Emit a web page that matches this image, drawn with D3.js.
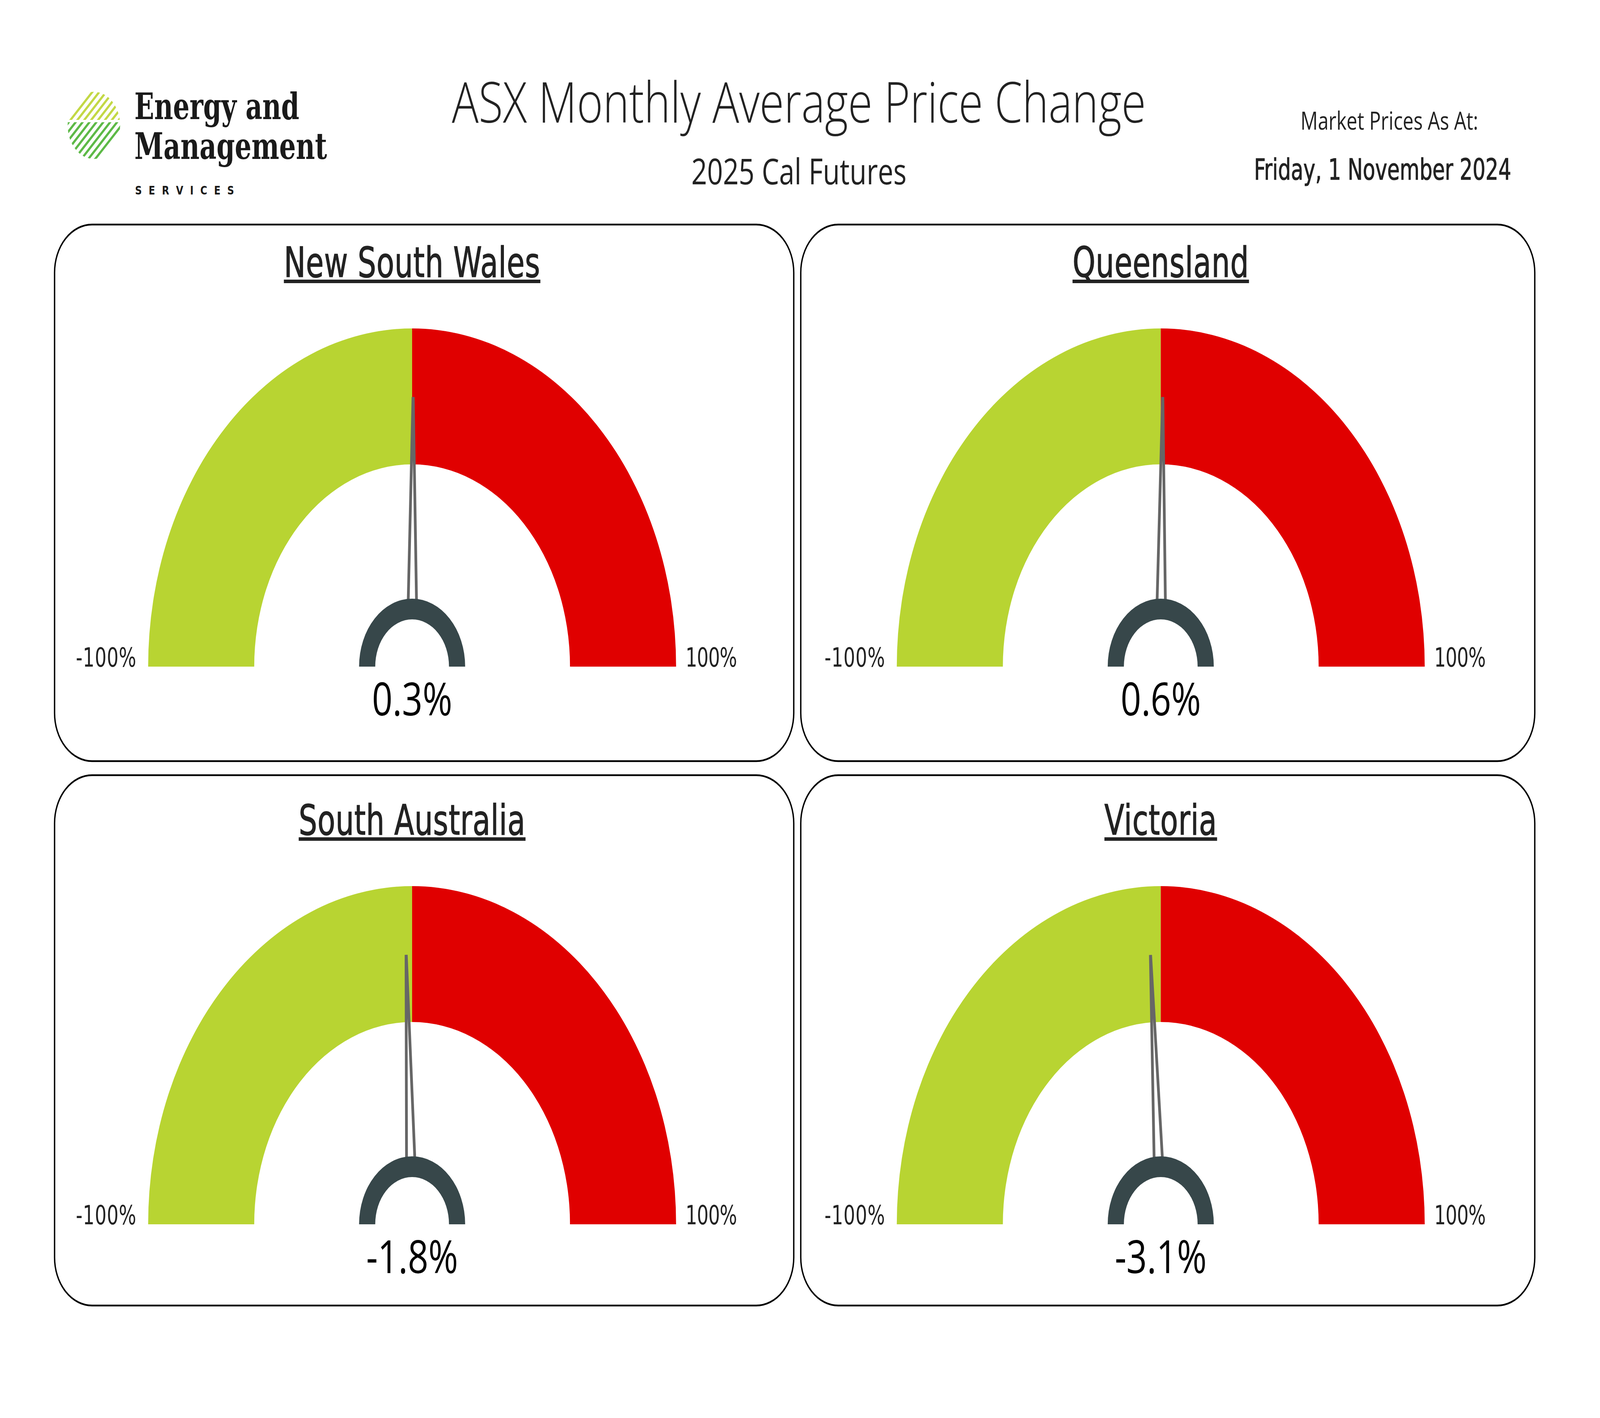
<!DOCTYPE html>
<html>
<head>
<meta charset="utf-8">
<style>
  html, body { margin: 0; padding: 0; background: #fff; overflow: hidden; }
  svg { display: block; width: 100vw; height: 100vh; }
</style>
</head>
<body>
<script src="https://cdn.jsdelivr.net/npm/d3@7"></script>
<script>
// Data
const regions = ['New South Wales', 'Queensland', 'South Australia', 'Victoria']
const changes = [0.3, 0.6, -1.8, -3.1]
const scaleMin = -100
const scaleMax = 100
const scaleLabels = ['-100%', '100%']
const bands = [[-100, 0], [0, 100]]
const bandColors = ['#b8d432', '#e00000']
const title = 'ASX Monthly Average Price Change'
const subtitle = '2025 Cal Futures'
const asAtLabel = 'Market Prices As At:'
const asAtDate = 'Friday, 1 November 2024'

// The window may be narrower than the drawing: stretch the drawing to fill it
const W = 5249, H = 3631
const condensed = '"DejaVu Sans Condensed", "DejaVu Sans", sans-serif'
const segoe = '"Open Sans", "Noto Sans", sans-serif'

const svg = d3.select('body').append('svg')
  .attr('viewBox', [0, 0, W, H])
  .attr('preserveAspectRatio', 'none')

// Logo
const logo = svg.append('g')
const defs = svg.append('defs')
defs.append('clipPath').attr('id', 'logo-circle')
  .append('circle').attr('cx', 308).attr('cy', 321).attr('r', 86)
defs.append('clipPath').attr('id', 'logo-top')
  .append('rect').attr('x', 200).attr('y', 200).attr('width', 220).attr('height', 107)
defs.append('clipPath').attr('id', 'logo-bottom')
  .append('rect').attr('x', 200).attr('y', 313).attr('width', 220).attr('height', 120)
const stripes = d3.range(-4, 5).map(k => k * 16)
const stripe = (g, color) => g.selectAll('line')
  .data(stripes)
  .join('line')
  .attr('x1', d => 308 + d / Math.SQRT2 - 120)
  .attr('y1', d => 321 + d / Math.SQRT2 + 120)
  .attr('x2', d => 308 + d / Math.SQRT2 + 120)
  .attr('y2', d => 321 + d / Math.SQRT2 - 120)
  .attr('stroke', color)
  .attr('stroke-width', 6.5)
stripe(logo.append('g').attr('clip-path', 'url(#logo-circle)')
  .append('g').attr('clip-path', 'url(#logo-top)'), '#c3d845')
stripe(logo.append('g').attr('clip-path', 'url(#logo-circle)')
  .append('g').attr('clip-path', 'url(#logo-bottom)'), '#5db947')
logo.append('text').attr('x', 441).attr('y', 305)
  .attr('font-family', '"DejaVu Serif Condensed", "DejaVu Serif", serif')
  .attr('font-weight', 'bold').attr('font-size', 94).attr('fill', '#1a1a1a')
  .attr('textLength', 541).attr('lengthAdjust', 'spacingAndGlyphs')
  .text('Energy and')
logo.append('text').attr('x', 441).attr('y', 407)
  .attr('font-family', '"DejaVu Serif Condensed", "DejaVu Serif", serif')
  .attr('font-weight', 'bold').attr('font-size', 94).attr('fill', '#1a1a1a')
  .attr('textLength', 632).attr('lengthAdjust', 'spacingAndGlyphs')
  .text('Management')
logo.append('text').attr('x', 443).attr('y', 498)
  .attr('font-family', '"DejaVu Sans", sans-serif')
  .attr('font-weight', 'bold').attr('font-size', 31).attr('fill', '#1a1a1a')
  .attr('textLength', 325).attr('lengthAdjust', 'spacing')
  .text('SERVICES')

// Header
svg.append('text').attr('x', 2621).attr('y', 314)
  .attr('text-anchor', 'middle').attr('font-family', segoe).attr('font-size', 143)
  .attr('font-weight', 300)
  .attr('fill', '#222').attr('textLength', 2277).attr('lengthAdjust', 'spacingAndGlyphs')
  .text(title)
svg.append('text').attr('x', 2621).attr('y', 472)
  .attr('text-anchor', 'middle').attr('font-family', segoe).attr('font-size', 92)
  .attr('fill', '#222').attr('textLength', 706).attr('lengthAdjust', 'spacingAndGlyphs')
  .text(subtitle)
svg.append('text').attr('x', 4558).attr('y', 332)
  .attr('text-anchor', 'middle').attr('font-family', segoe).attr('font-size', 64)
  .attr('fill', '#222').attr('textLength', 583).attr('lengthAdjust', 'spacingAndGlyphs')
  .text(asAtLabel)
svg.append('text').attr('x', 4536).attr('y', 460)
  .attr('text-anchor', 'middle').attr('font-family', condensed).attr('font-size', 74)
  .attr('fill', '#222').attr('stroke', '#222').attr('stroke-width', 1.2)
  .attr('textLength', 844).attr('lengthAdjust', 'spacingAndGlyphs')
  .text(asAtDate)

// Panels
const panelX = [179, 2627], panelW = [2425, 2408]
const panelY = [575, 1985], panelH = [1374, 1358]
const gaugeX = [1352, 3808], gaugeY = [1707, 3135]
const rOuter = 866, rInner = 518, hubOuter = 174, hubInner = 121
const needleLen = 690

const angle = d3.scaleLinear().domain([scaleMin, scaleMax]).range([-Math.PI / 2, Math.PI / 2])
const band = d3.arc().innerRadius(rInner).outerRadius(rOuter)
const hub = d3.arc().innerRadius(hubInner).outerRadius(hubOuter)
  .startAngle(-Math.PI / 2).endAngle(Math.PI / 2)

regions.forEach((name, i) => {
  const col = i % 2, row = Math.floor(i / 2)
  svg.append('rect')
    .attr('x', panelX[col]).attr('y', panelY[row])
    .attr('width', panelW[col]).attr('height', panelH[row])
    .attr('rx', 123).attr('ry', 123)
    .attr('fill', 'none').attr('stroke', '#000').attr('stroke-width', 4.5)

  const g = svg.append('g').attr('transform', `translate(${gaugeX[col]},${gaugeY[row]})`)

  const t = g.append('text').attr('x', 0).attr('y', -998)
    .attr('text-anchor', 'middle').attr('font-family', condensed)
    .attr('font-size', 106).attr('fill', '#222').attr('letter-spacing', 1)
    .attr('stroke', '#222').attr('stroke-width', 1.5)
    .text(name)
  const tw = t.node().getComputedTextLength()
  g.append('rect').attr('x', -tw / 2).attr('y', -991).attr('width', tw).attr('height', 9).attr('fill', '#222')

  g.selectAll('path.band')
    .data(bands)
    .join('path')
    .attr('class', 'band')
    .attr('d', d => band({ startAngle: angle(d[0]), endAngle: angle(d[1]) }))
    .attr('fill', (d, j) => bandColors[j])

  g.append('text').attr('x', -rOuter - 38).attr('y', 0)
    .attr('text-anchor', 'end').attr('font-family', condensed)
    .attr('font-size', 67).attr('fill', '#222').attr('letter-spacing', 1)
    .text(scaleLabels[0])
  g.append('text').attr('x', rOuter + 31).attr('y', 0)
    .attr('text-anchor', 'start').attr('font-family', condensed)
    .attr('font-size', 67).attr('fill', '#222').attr('letter-spacing', -1)
    .text(scaleLabels[1])

  const deg = angle(changes[i]) * 180 / Math.PI
  g.append('path')
    .attr('transform', `rotate(${deg})`)
    .attr('d', `M${-13.5},${-hubOuter + 2} L${-0.5},${-needleLen + 4} L${0.5},${-needleLen + 4} L${13.5},${-hubOuter + 2}`)
    .attr('fill', '#fff').attr('stroke', '#666').attr('stroke-width', 9)
    .attr('stroke-linejoin', 'miter').attr('stroke-miterlimit', 2)

  g.append('path').attr('d', hub()).attr('fill', '#37474a')

  g.append('text').attr('x', 0).attr('y', 125)
    .attr('text-anchor', 'middle').attr('font-family', segoe)
    .attr('font-size', 118).attr('fill', '#000')
    .text(`${changes[i].toFixed(1)}%`)
})
</script>
</body>
</html>
